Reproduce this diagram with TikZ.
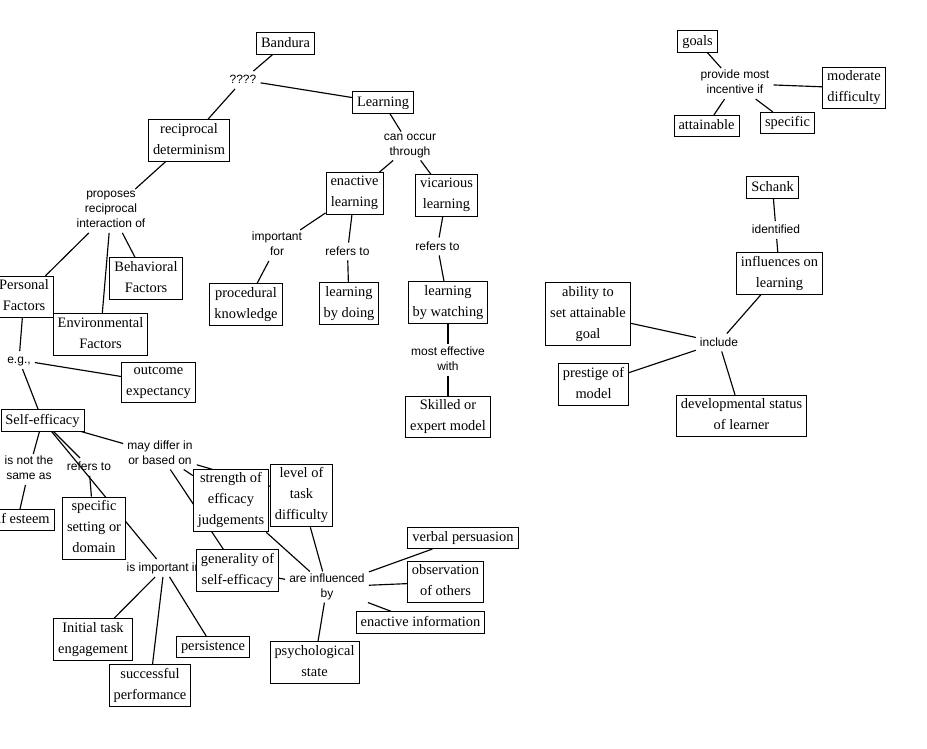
\documentclass[tikz,border=0pt]{standalone}
\usepackage{fontspec}
\setmainfont{Liberation Serif}
\newfontfamily\labfont{Liberation Sans}
\usetikzlibrary{backgrounds}
\newcommand\cstrut{\rule[-3.6pt]{0pt}{14.2pt}}
\newcommand\lstrut{\rule[-3pt]{0pt}{13.5pt}}
\tikzset{
  concept/.style={draw, fill=white, line width=0.9pt, align=center,
    font=\fontsize{14.4}{21}\selectfont, inner xsep=4.5pt, inner ysep=3.5pt,
    execute at begin node=\cstrut, execute at end node=\cstrut},
  linkph/.style={font=\labfont\fontsize{12}{15}\selectfont, align=center,
    inner xsep=4pt, inner ysep=2pt,
    execute at begin node=\lstrut, execute at end node=\lstrut},
  conn/.style={line width=1.15pt, black}
}
\begin{document}
\begin{tikzpicture}[x=1pt,y=-1pt]
\useasboundingbox (0,0) rectangle (927,748);
% linking phrases
\node[linkph] (q) at (243,80) {????};
\node[linkph] (canoccur) at (410,146) {can occur\\through};
\node[linkph] (proposes) at (111,211) {proposes\\reciprocal\\interaction of};
\node[linkph] (impfor) at (277,245.5) {important\\for};
\node[linkph] (refers1) at (347.5,251.5) {refers to};
\node[linkph] (refers2) at (437.5,246.5) {refers to};
\node[linkph] (mosteff) at (448,360) {most effective\\with};
\node[linkph] (eg) at (19,360) {e.g.,};
\node[linkph] (notsame) at (29,469.5) {is not the\\same as};
\node[linkph] (refers3) at (89,467) {refers to};
\node[linkph] (maydiffer) at (160,454) {may differ in\\or based on};
\node[linkph] (important) at (164,568) {is important in};
\node[linkph] (influenced) at (327,587) {are influenced\\by};
\node[linkph] (provide) at (735,83.5) {provide most\\incentive if};
\node[linkph] (identified) at (776,230) {identified};
\node[linkph] (include) at (719,342.5) {include};
% concepts
\node[concept] (bandura) at (285.5,43.5) {Bandura};
\node[concept] (learning) at (383,102.5) {Learning};
\node[concept] (recip) at (189,140.5) {reciprocal\\determinism};
\node[concept] (enactive) at (354.5,193.5) {enactive\\learning};
\node[concept] (vicarious) at (446.5,195.5) {vicarious\\learning};
\node[concept] (behav) at (146,278.5) {Behavioral\\Factors};
\node[concept] (personal) at (24,297) {Personal\\Factors};
\node[concept] (environ) at (100.5,334.5) {Environmental\\Factors};
\node[concept] (procedural) at (246,304.5) {procedural\\knowledge};
\node[concept] (doing) at (349,303.5) {learning\\by doing};
\node[concept] (watching) at (448,302.5) {learning\\by watching};
\node[concept] (outcome) at (158.5,382.5) {outcome\\expectancy};
\node[concept] (skilled) at (448,417) {Skilled or\\expert model};
\node[concept] (selfeff) at (42.5,420.5) {Self-efficacy};
\node[concept] (esteem) at (17.5,520) {self esteem};
\node[concept] (specific) at (94,528.5) {specific\\setting or\\domain};
\node[concept] (strength) at (231,500.5) {strength of\\efficacy\\judgements};
\node[concept] (level) at (301.5,495.5) {level of\\task\\difficulty};
\node[concept] (generality) at (237.5,570.5) {generality of\\self-efficacy};
\node[concept] (verbal) at (463,538) {verbal persuasion};
\node[concept] (observation) at (445.5,582) {observation\\of others};
\node[concept] (enactinfo) at (420.5,622.5) {enactive information};
\node[concept] (psych) at (314.5,662.5) {psychological\\state};
\node[concept] (initial) at (93,639.5) {Initial task\\engagement};
\node[concept] (persist) at (213,647) {persistence};
\node[concept] (success) at (150,685.5) {successful\\performance};
\node[concept] (goals) at (697.5,41.5) {goals};
\node[concept] (moderate) at (854,88) {moderate\\difficulty};
\node[concept] (attainable) at (706.5,126) {attainable};
\node[concept] (specif) at (787.5,123) {specific};
\node[concept] (schank) at (772.5,187.5) {Schank};
\node[concept] (influences) at (779.5,273.5) {influences on\\learning};
\node[concept] (ability) at (588,314) {ability to\\set attainable\\goal};
\node[concept] (prestige) at (593.5,384.5) {prestige of\\model};
\node[concept] (develop) at (741.5,416) {developmental status\\of learner};
% connectors
\begin{scope}[on background layer]
\fill[white] (0,0) rectangle (927,748);
\draw[conn] (bandura) -- (q);
\draw[conn] (q) -- (learning);
\draw[conn] (q) -- (recip);
\draw[conn] (learning) -- (canoccur);
\draw[conn] (canoccur) -- (enactive);
\draw[conn] (canoccur) -- (vicarious);
\draw[conn] (recip) -- (proposes);
\draw[conn] (proposes) -- (personal);
\draw[conn] (proposes) -- (environ);
\draw[conn] (proposes) -- (behav);
\draw[conn] (enactive) -- (impfor);
\draw[conn] (impfor) -- (procedural);
\draw[conn] (enactive) -- (refers1);
\draw[conn] (refers1) -- (doing);
\draw[conn] (vicarious) -- (refers2);
\draw[conn] (refers2) -- (watching);
\draw[conn] (watching) -- (mosteff);
\draw[conn] (mosteff) -- (skilled);
\draw[conn] (personal) -- (eg);
\draw[conn] (eg) -- (outcome);
\draw[conn] (eg) -- (selfeff);
\draw[conn] (selfeff) -- (notsame);
\draw[conn] (notsame) -- (esteem);
\draw[conn] (selfeff) -- (refers3);
\draw[conn] (refers3) -- (specific);
\draw[conn] (selfeff) -- (important);
\draw[conn] (selfeff) -- (maydiffer);
\draw[conn] (maydiffer) -- (strength);
\draw[conn] (maydiffer) -- (level);
\draw[conn] (maydiffer) -- (generality);
\draw[conn] (important) -- (initial);
\draw[conn] (important) -- (success);
\draw[conn] (important) -- (persist);
\draw[conn] (strength) -- (influenced);
\draw[conn] (level) -- (influenced);
\draw[conn] (generality) -- (influenced);
\draw[conn] (influenced) -- (verbal);
\draw[conn] (influenced) -- (observation);
\draw[conn] (influenced) -- (enactinfo);
\draw[conn] (influenced) -- (psych);
\draw[conn] (goals) -- (provide);
\draw[conn] (provide) -- (moderate);
\draw[conn] (provide) -- (attainable);
\draw[conn] (provide) -- (specif);
\draw[conn] (schank) -- (identified);
\draw[conn] (identified) -- (influences);
\draw[conn] (influences) -- (include);
\draw[conn] (include) -- (ability);
\draw[conn] (include) -- (prestige);
\draw[conn] (include) -- (develop);
\end{scope}
\end{tikzpicture}
\end{document}
